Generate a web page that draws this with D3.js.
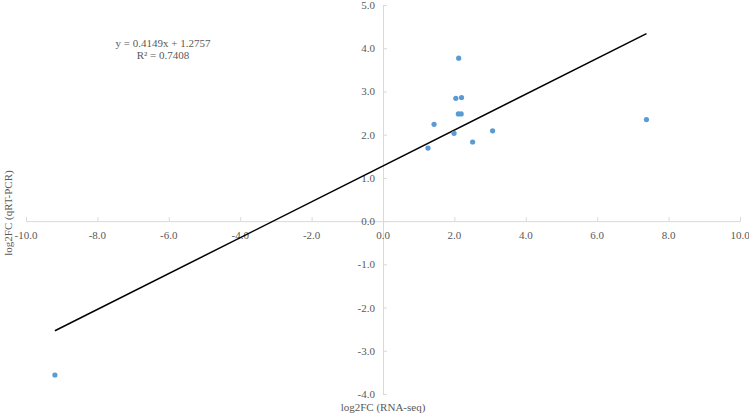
<!DOCTYPE html>
<html>
<head>
<meta charset="utf-8">
<script src="https://cdn.jsdelivr.net/npm/d3@7"></script>
<style>
  body { margin: 0; background: #fff; }
  text { font-family: "Liberation Serif", "Times New Roman", serif; fill: #595959; }
</style>
</head>
<body>
<div id="canvas"></div>
<script>
"use strict"

/* Data: log2FC values */
let rnaSeq = [2.12, 2.04, 2.20, 2.11, 2.19, 1.43, 1.99, 3.07, 2.51, 1.26, 7.38, -9.19];
let qrtPcr = [3.77, 2.84, 2.86, 2.48, 2.48, 2.24, 2.03, 2.09, 1.83, 1.69, 2.35, -3.56];
let xTicks = [-10, -8, -6, -4, -2, 0, 2, 4, 6, 8, 10];
let yTicks = [-4, -3, -2, -1, 0, 1, 2, 3, 4, 5];
let slope = 0.4149;
let intercept = 1.2757;
let equationLines = ["y = 0.4149x + 1.2757", "R² = 0.7408"];

let points = rnaSeq.map(function (x, i) { return {x: x, y: qrtPcr[i]}; });

/* Drawing size */
let svgWidth = 749;
let svgHeight = 416;

let svg = d3.select("#canvas")
  .append("svg")
  .attr("width", svgWidth)
  .attr("height", svgHeight);

let xScale = d3.scaleLinear()
  .domain([-10, 10])
  .range([26, 740]);

let yScale = d3.scaleLinear()
  .domain([-4, 5])
  .range([394, 5]);

// x axis through y = 0
let xAxis = svg.append("g")
  .attr("transform", "translate(0," + yScale(0) + ")")
  .call(d3.axisTop(xScale).tickValues(xTicks).tickSize(4).tickFormat(""));
xAxis.selectAll("path, line").attr("stroke", "#d9d9d9");

// y axis through x = 0
let yAxis = svg.append("g")
  .attr("transform", "translate(" + xScale(0) + ",0)")
  .call(d3.axisRight(yScale).tickValues(yTicks).tickSize(4).tickFormat(""));
yAxis.selectAll("path, line").attr("stroke", "#d9d9d9");

// tick labels (placed like Excel: x labels below the axis, y labels to the left)
svg.selectAll(".xlab")
  .data(xTicks)
  .enter()
  .append("text")
  .attr("class", "xlab")
  .attr("x", function (d) { return xScale(d); })
  .attr("y", yScale(0) + 18)
  .attr("text-anchor", "middle")
  .style("font-size", "11px")
  .text(function (d) { return d.toFixed(1); });

svg.selectAll(".ylab")
  .data(yTicks)
  .enter()
  .append("text")
  .attr("class", "ylab")
  .attr("x", xScale(0) - 8)
  .attr("y", function (d) { return yScale(d) + 4; })
  .attr("text-anchor", "end")
  .style("font-size", "11px")
  .text(function (d) { return d.toFixed(1); });

// trend line over the data range
let xExtent = d3.extent(rnaSeq);
svg.append("line")
  .attr("x1", xScale(xExtent[0]))
  .attr("y1", yScale(slope * xExtent[0] + intercept))
  .attr("x2", xScale(xExtent[1]))
  .attr("y2", yScale(slope * xExtent[1] + intercept))
  .attr("stroke", "#000")
  .attr("stroke-width", 1.5);

// points
svg.selectAll("circle")
  .data(points)
  .enter()
  .append("circle")
  .attr("cx", function (d) { return xScale(d.x); })
  .attr("cy", function (d) { return yScale(d.y); })
  .attr("r", 2.6)
  .attr("fill", "#5b9bd5");

// equation
svg.selectAll(".eq")
  .data(equationLines)
  .enter()
  .append("text")
  .attr("class", "eq")
  .attr("x", 163)
  .attr("y", function (d, i) { return 46.5 + i * 12; })
  .attr("text-anchor", "middle")
  .style("font-size", "11px")
  .text(function (d) { return d; });

// axis titles
svg.append("text")
  .attr("x", xScale(0))
  .attr("y", 411)
  .attr("text-anchor", "middle")
  .style("font-size", "11px")
  .text("log2FC (RNA-seq)");

svg.append("text")
  .attr("transform", "translate(12," + 213 + ") rotate(-90)")
  .attr("text-anchor", "middle")
  .style("font-size", "11px")
  .text("log2FC (qRT-PCR)");
</script>
</body>
</html>
